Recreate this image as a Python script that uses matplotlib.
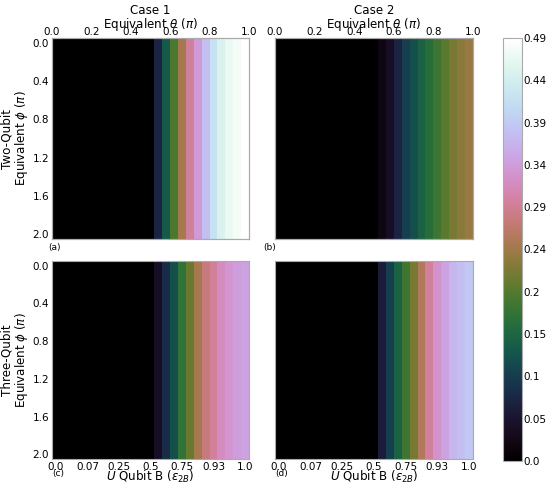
import numpy as np
import matplotlib
matplotlib.use("Agg")
import matplotlib.pyplot as plt

# ---- data: value per theta column (25 columns), constant along phi (21 rows) ----
n_rows = 21
case1_two = [0]*13 + [0.07, 0.13, 0.19, 0.25, 0.30, 0.34, 0.38, 0.42, 0.45, 0.47, 0.48, 0.49]
case2_two = [0]*13 + [0.02, 0.04, 0.07, 0.10, 0.12, 0.14, 0.16, 0.18, 0.20, 0.22, 0.23, 0.24]
case1_three = [0]*13 + [0.04, 0.08, 0.12, 0.17, 0.21, 0.25, 0.28, 0.30, 0.32, 0.335, 0.345, 0.35]
case2_three = [0]*13 + [0.06, 0.10, 0.14, 0.18, 0.22, 0.26, 0.30, 0.33, 0.35, 0.37, 0.38, 0.39]

vmax = 0.49
top_ticks = [0.0, 0.2, 0.4, 0.6, 0.8, 1.0]
bottom_labels = ["0.0", "0.07", "0.25", "0.5", "0.75", "0.93", "1.0"]
phi_labels = ["0.0", "0.4", "0.8", "1.2", "1.6", "2.0"]
col_titles = ["Case 1", "Case 2"]
row_titles = ["Two-Qubit", "Three-Qubit"]
letters = ["(a)", "(b)", "(c)", "(d)"]

W, H = 550, 490
fig = plt.figure(figsize=(W/100, H/100), dpi=100)

def fx(px):
    return px / W

def fy(py):
    return 1 - py / H

TICK_FS = 7.5
LAB_FS = 8.6

panels = [
    (52, 38, 249, 239, case1_two),
    (275, 38, 473, 239, case2_two),
    (52, 261, 249, 459, case1_three),
    (275, 261, 473, 459, case2_three),
]
spine_col = "#aaaaaa"
cmap = plt.get_cmap("cubehelix")
ims = []
for k, (x0, y0, x1, y1, vals) in enumerate(panels):
    ax = fig.add_axes([fx(x0), fy(y1), fx(x1 - x0), (y1 - y0) / H])
    data = np.tile(np.asarray(vals, dtype=float), (n_rows, 1))
    im = ax.imshow(data, cmap=cmap, vmin=0, vmax=vmax, aspect="auto",
                   interpolation="nearest")
    ims.append(im)
    for s in ax.spines.values():
        s.set_color(spine_col)
        s.set_linewidth(0.8)
    ax.tick_params(length=0, labelsize=TICK_FS, pad=2)
    row, col = divmod(k, 2)
    # y axis
    ax.set_yticks(np.arange(0, n_rows, 4))
    if col == 0:
        ax.set_yticklabels(phi_labels)
        ax.set_ylabel(row_titles[row] + "\nEquivalent $\\phi$ ($\\pi$)", fontsize=LAB_FS,
                      labelpad=2, linespacing=0.95)
    else:
        ax.set_yticklabels([])
    # x axis
    ax.set_xticks(np.arange(0, 25, 4))
    if row == 1:
        ax.set_xticklabels(bottom_labels)
        ax.set_xlabel("$U$ Qubit B ($\\varepsilon_{2B}$)", fontsize=LAB_FS, labelpad=-2)
    else:
        ax.set_xticklabels([])
        ax2 = ax.twiny()
        ax2.set_xlim(0, 1)
        ax2.set_xticks(top_ticks)
        ax2.set_xticklabels([f"{t:.1f}" for t in top_ticks])
        ax2.tick_params(length=0, labelsize=TICK_FS, pad=1)
        for s in ax2.spines.values():
            s.set_color(spine_col)
            s.set_linewidth(0.8)
        ax2.set_xlabel(col_titles[col] + "\nEquivalent $\\theta$ ($\\pi$)", fontsize=LAB_FS,
                       labelpad=-1, linespacing=0.95)
    if row == 0:
        lx = -0.02 if col == 0 else -0.06
        ly = -(247 - 239) / 201
    else:
        lx = 0.0
        ly = -(473 - 459) / 198
    ax.text(lx, ly, letters[k], transform=ax.transAxes,
            fontsize=6.5, ha="left", va="center")

cax = fig.add_axes([fx(503), fy(461), fx(19), (461 - 38) / H])
cb = fig.colorbar(ims[0], cax=cax)
cb_ticks = np.linspace(0, vmax, 11)
cb.set_ticks(cb_ticks)
cb.set_ticklabels([str(round(float(t), 2)) for t in cb_ticks])
cb.ax.tick_params(length=0, labelsize=TICK_FS, pad=1)
cb.outline.set_edgecolor(spine_col)
cb.outline.set_linewidth(0.8)

fig.savefig("out.png", dpi=100)
